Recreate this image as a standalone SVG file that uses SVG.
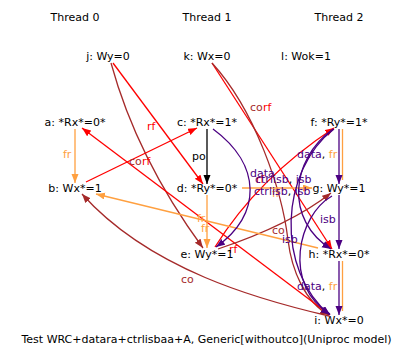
<svg xmlns="http://www.w3.org/2000/svg" width="415" height="361" viewBox="0 0 415 361">
<defs>
<style>
text{font-family:"DejaVu Sans",sans-serif;font-size:11px}
.n{text-anchor:middle;fill:#000}
.e{fill:none;stroke-width:1.3}
.red{stroke:#ff0000}.brn{stroke:#a52a2a}.org{stroke:#ffa040}.pur{stroke:#4b0082}.blk{stroke:#000}
.tred{fill:#ff0000}.tbrn{fill:#a52a2a}.torg{fill:#ffa040}.tpur{fill:#4b0082}.tblk{fill:#000}
</style>
<marker id="mr" markerUnits="userSpaceOnUse" markerWidth="10" markerHeight="8" refX="9" refY="3.5" orient="auto"><path d="M0,0L9,3.5L0,7z" fill="#ff0000"/></marker>
<marker id="mb" markerUnits="userSpaceOnUse" markerWidth="10" markerHeight="8" refX="9" refY="3.5" orient="auto"><path d="M0,0L9,3.5L0,7z" fill="#a52a2a"/></marker>
<marker id="mo" markerUnits="userSpaceOnUse" markerWidth="10" markerHeight="8" refX="9" refY="3.5" orient="auto"><path d="M0,0L9,3.5L0,7z" fill="#ffa040"/></marker>
<marker id="mp" markerUnits="userSpaceOnUse" markerWidth="10" markerHeight="8" refX="9" refY="3.5" orient="auto"><path d="M0,0L9,3.5L0,7z" fill="#4b0082"/></marker>
<marker id="mk" markerUnits="userSpaceOnUse" markerWidth="10" markerHeight="8" refX="9" refY="3.5" orient="auto"><path d="M0,0L9,3.5L0,7z" fill="#000"/></marker>
</defs>
<rect width="415" height="361" fill="#fff"/>
<g id="threads">
<text class="n" x="75" y="21">Thread 0</text>
<text class="n" x="207" y="21">Thread 1</text>
<text class="n" x="339" y="21">Thread 2</text>
</g>
<g id="connectors">
<path class="e org" d="M75,129L75,183" marker-end="url(#mo)"/>
<path class="e blk" d="M207,129L207,184" marker-end="url(#mk)"/>
<path class="e red" d="M113,63L203,184" marker-end="url(#mr)"/>
<path class="e brn" d="M111,63Q137,158 203,248" marker-end="url(#mb)"/>
<path class="e red" d="M86,182L197,128" marker-end="url(#mr)"/>
<path class="e red" d="M212,63Q262,140 332,249" marker-end="url(#mr)"/>
<path class="e brn" d="M212,63C255,110 282,190 288,240C291.6,270 305,302 329,315" marker-end="url(#mb)"/>
<path class="e red" d="M215,247Q258,178 334,128" marker-end="url(#mr)"/>
<path class="e red" d="M330,315L82,128" marker-end="url(#mr)"/>
<path class="e brn" d="M329,316C260,300 150,270 82,194" marker-end="url(#mb)"/>
<path class="e brn" d="M218,249Q290,225 331,193" marker-end="url(#mb)"/>
<path class="e org" d="M207,195L207,248" marker-end="url(#mo)"/>
<path class="e org" d="M318,248L96,194" marker-end="url(#mo)"/>
<path class="e org" d="M242,188L312,188" marker-end="url(#mo)"/>
<path class="e org" d="M342.5,129L342.5,180"/>
<path class="e pur" d="M339,129L339,184" marker-end="url(#mp)"/>
<path class="e pur" d="M339,195L339,249" marker-end="url(#mp)"/>
<path class="e org" d="M342.5,261L342.5,311"/>
<path class="e pur" d="M339,261L339,315" marker-end="url(#mp)"/>
<path class="e pur" d="M213,129C262,165 262,215 216,247" marker-end="url(#mp)"/>
<path class="e pur" d="M333,129C290,160 285,220 331,249" marker-end="url(#mp)"/>
<path class="e pur" d="M334,129C280,170 275,270 330,315" marker-end="url(#mp)"/>
<path class="e pur" d="M332,196C298,215 282,285 330,314" marker-end="url(#mp)"/>
<text class="torg" x="63" y="158">fr</text>
<text class="tblk" x="192" y="160">po</text>
<text class="tred" x="147" y="130">rf</text>
<text class="tbrn" x="129" y="165">co</text>
<text class="tred" x="142" y="165">rf</text>
<text class="tbrn" x="250" y="111">co</text>
<text class="tred" x="263" y="111">rf</text>
<text class="tred" x="229" y="253">rf</text>
<text class="tbrn" x="181" y="283">co</text>
<text class="tbrn" x="272" y="234">co</text>
<text class="torg" x="201" y="232">fr</text>
<text class="torg" x="197" y="222">fr</text>
<text class="torg" x="272" y="197">fr</text>
<text class="tpur" x="250" y="177">data</text>
<text class="tred" x="256" y="183">rf</text>
<text x="255" y="183"><tspan class="tpur">ctrlisb</tspan><tspan class="tblk">, </tspan><tspan class="tpur">isb</tspan></text>
<text x="254" y="195"><tspan class="tpur">ctrlisb</tspan><tspan class="tblk">, </tspan><tspan class="tpur">isb</tspan></text>
<text x="297" y="158"><tspan class="tpur">data</tspan><tspan class="tblk">, </tspan><tspan class="torg">fr</tspan></text>
<text class="tpur" x="320" y="223">isb</text>
<text class="tpur" x="282" y="243">isb</text>
<text x="297" y="290"><tspan class="tpur">data</tspan><tspan class="tblk">, </tspan><tspan class="torg">fr</tspan></text>
</g>
<g id="j"><text class="n" x="108" y="60">j: Wy=0</text></g>
<g id="k"><text class="n" x="207" y="60">k: Wx=0</text></g>
<g id="l"><text class="n" x="306" y="60">l: Wok=1</text></g>
<g id="a"><text class="n" x="75" y="126">a: *Rx*=0*</text></g>
<g id="c"><text class="n" x="207" y="126">c: *Rx*=1*</text></g>
<g id="f"><text class="n" x="339" y="126">f: *Ry*=1*</text></g>
<g id="b"><text class="n" x="75" y="192">b: Wx*=1</text></g>
<g id="d"><text class="n" x="207" y="192">d: *Ry*=0*</text></g>
<g id="g"><text class="n" x="339" y="192">g: Wy*=1</text></g>
<g id="e"><text class="n" x="207" y="258">e: Wy*=1</text></g>
<g id="h"><text class="n" x="339" y="258">h: *Rx*=0*</text></g>
<g id="i"><text class="n" x="339" y="324">i: Wx*=0</text></g>
<g id="caption"><text class="n" x="206.5" y="343">Test WRC+datara+ctrlisbaa+A, Generic[withoutco](Uniproc model)</text></g>
</svg>
